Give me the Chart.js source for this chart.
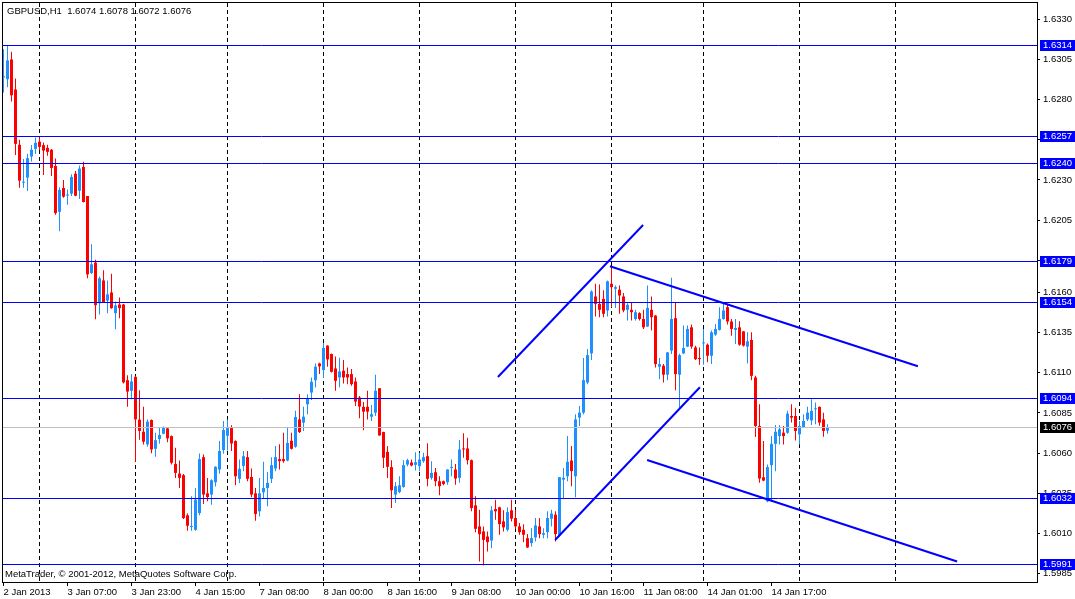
<!DOCTYPE html>
<html>
<head>
<meta charset="utf-8">
<title>GBPUSD,H1</title>
<script src="https://cdn.jsdelivr.net/npm/chart.js"></script>
<style>
  html, body { margin: 0; padding: 0; background: #fff; }
  canvas { display: block; }
</style>
</head>
<body>
<canvas id="chart" width="1075" height="599"></canvas>
<script>
// Data (H1 candles, 2 Jan 15:00 .. 15 Jan 07:00)
const symbol = "GBPUSD,H1";

const opens = [
  1.62938, 1.62927, 1.63050, 1.62863, 1.62519, 1.62283, 1.62315, 1.62446, 1.62494, 1.62538,
  1.62517, 1.62500, 1.62488, 1.62387, 1.62102, 1.62250, 1.62203, 1.62215, 1.62339, 1.62233,
  1.62381, 1.62200, 1.61721, 1.61786, 1.61533, 1.61675, 1.61550, 1.61600, 1.61471, 1.61525,
  1.61525, 1.61054, 1.60988, 1.61075, 1.60808, 1.60733, 1.60654, 1.60806, 1.60627, 1.60688,
  1.60721, 1.60754, 1.60706, 1.60533, 1.60473, 1.60463, 1.60213, 1.60140, 1.60123, 1.60227,
  1.60575, 1.60350, 1.60342, 1.60419, 1.60498, 1.60619, 1.60708, 1.60756, 1.60675, 1.60440,
  1.60521, 1.60575, 1.60452, 1.60350, 1.60238, 1.60356, 1.60383, 1.60440, 1.60504, 1.60563,
  1.60563, 1.60554, 1.60677, 1.60640, 1.60810, 1.60790, 1.60904, 1.60977, 1.61054, 1.61158,
  1.61117, 1.61269, 1.61217, 1.61127, 1.61071, 1.61113, 1.61092, 1.61092, 1.61046, 1.60946,
  1.60888, 1.60888, 1.60827, 1.60852, 1.61004, 1.60731, 1.60608, 1.60513, 1.60342, 1.60358,
  1.60390, 1.60529, 1.60542, 1.60527, 1.60519, 1.60550, 1.60581, 1.60446, 1.60481, 1.60425,
  1.60425, 1.60419, 1.60508, 1.60498, 1.60446, 1.60629, 1.60629, 1.60556, 1.60275, 1.60144,
  1.60113, 1.60081, 1.60056, 1.60252, 1.60263, 1.60175, 1.60123, 1.60244, 1.60196, 1.60144,
  1.60123, 1.60071, 1.60040, 1.60075, 1.60144, 1.60092, 1.60108, 1.60192, 1.60217, 1.60088,
  1.60435, 1.60456, 1.60554, 1.60456, 1.60821, 1.60852, 1.61040, 1.61221, 1.61575, 1.61529,
  1.61560, 1.61488, 1.61654, 1.61623, 1.61617, 1.61575, 1.61492, 1.61492, 1.61435, 1.61471,
  1.61435, 1.61388, 1.61492, 1.61456, 1.61138, 1.61144, 1.61088, 1.61238, 1.61440, 1.61088,
  1.61221, 1.61263, 1.61383, 1.61258, 1.61192, 1.61283, 1.61275, 1.61206, 1.61338, 1.61367,
  1.61435, 1.61508, 1.61419, 1.61367, 1.61383, 1.61358, 1.61263, 1.61304, 1.61071, 1.60769,
  1.60450, 1.60300, 1.60525, 1.60658, 1.60706, 1.60727, 1.60727, 1.60831, 1.60831, 1.60717,
  1.60762, 1.60810, 1.60804, 1.60873, 1.60888, 1.60810, 1.60740
];

const highs = [
  1.63113, 1.63138, 1.63098, 1.62931, 1.62550, 1.62431, 1.62463, 1.62517, 1.62564, 1.62564,
  1.62533, 1.62519, 1.62492, 1.62433, 1.62254, 1.62300, 1.62240, 1.62336, 1.62356, 1.62390,
  1.62413, 1.62200, 1.61900, 1.61804, 1.61700, 1.61738, 1.61675, 1.61717, 1.61544, 1.61569,
  1.61530, 1.61085, 1.61092, 1.61080, 1.60992, 1.60888, 1.60810, 1.60810, 1.60727, 1.60758,
  1.60765, 1.60760, 1.60710, 1.60633, 1.60554, 1.60470, 1.60225, 1.60331, 1.60383, 1.60598,
  1.60592, 1.60446, 1.60438, 1.60519, 1.60675, 1.60800, 1.60810, 1.60773, 1.60680, 1.60560,
  1.60613, 1.60613, 1.60504, 1.60383, 1.60446, 1.60546, 1.60483, 1.60575, 1.60644, 1.60656,
  1.60727, 1.60758, 1.60727, 1.60863, 1.60967, 1.60888, 1.60967, 1.61071, 1.61158, 1.61163,
  1.61285, 1.61272, 1.61220, 1.61202, 1.61194, 1.61179, 1.61133, 1.61123, 1.61071, 1.60956,
  1.60919, 1.60988, 1.60900, 1.61088, 1.61006, 1.60733, 1.60644, 1.60556, 1.60420, 1.60456,
  1.60556, 1.60565, 1.60560, 1.60606, 1.60602, 1.60602, 1.60662, 1.60550, 1.60508, 1.60456,
  1.60430, 1.60500, 1.60560, 1.60533, 1.60681, 1.60723, 1.60696, 1.60560, 1.60331, 1.60248,
  1.60144, 1.60113, 1.60269, 1.60310, 1.60266, 1.60244, 1.60263, 1.60310, 1.60244, 1.60165,
  1.60158, 1.60096, 1.60133, 1.60196, 1.60196, 1.60133, 1.60238, 1.60248, 1.60238, 1.60452,
  1.60508, 1.60706, 1.60644, 1.60842, 1.60894, 1.61192, 1.61248, 1.61613, 1.61654, 1.61650,
  1.61613, 1.61675, 1.61763, 1.61644, 1.61644, 1.61596, 1.61533, 1.61540, 1.61492, 1.61477,
  1.61492, 1.61644, 1.61575, 1.61460, 1.61192, 1.61154, 1.61230, 1.61692, 1.61540, 1.61219,
  1.61394, 1.61394, 1.61400, 1.61269, 1.61258, 1.61373, 1.61283, 1.61363, 1.61404, 1.61508,
  1.61540, 1.61529, 1.61435, 1.61435, 1.61421, 1.61360, 1.61352, 1.61352, 1.61081, 1.60904,
  1.60675, 1.60529, 1.60706, 1.60775, 1.60775, 1.60769, 1.60863, 1.60904, 1.60883, 1.60800,
  1.60842, 1.60888, 1.60935, 1.60915, 1.60890, 1.60852, 1.60780
];

const lows = [
  1.62844, 1.62877, 1.62789, 1.62456, 1.62252, 1.62252, 1.62231, 1.62415, 1.62461, 1.62487,
  1.62331, 1.62450, 1.62325, 1.62083, 1.61981, 1.62190, 1.62146, 1.62200, 1.62198, 1.62181,
  1.62160, 1.61688, 1.61715, 1.61433, 1.61463, 1.61536, 1.61471, 1.61498, 1.61371, 1.61440,
  1.61033, 1.60888, 1.60935, 1.60546, 1.60683, 1.60654, 1.60640, 1.60600, 1.60577, 1.60658,
  1.60717, 1.60667, 1.60529, 1.60446, 1.60383, 1.60190, 1.60117, 1.60117, 1.60117, 1.60213,
  1.60283, 1.60300, 1.60279, 1.60392, 1.60471, 1.60596, 1.60617, 1.60613, 1.60400, 1.60414,
  1.60488, 1.60425, 1.60325, 1.60179, 1.60206, 1.60321, 1.60269, 1.60414, 1.60488, 1.60498,
  1.60540, 1.60550, 1.60623, 1.60633, 1.60725, 1.60738, 1.60842, 1.60931, 1.61008, 1.61092,
  1.61067, 1.61138, 1.61102, 1.60988, 1.61008, 1.61033, 1.61029, 1.61019, 1.60894, 1.60817,
  1.60742, 1.60810, 1.60800, 1.60831, 1.60708, 1.60508, 1.60446, 1.60258, 1.60290, 1.60350,
  1.60385, 1.60519, 1.60519, 1.60492, 1.60488, 1.60540, 1.60394, 1.60435, 1.60394, 1.60338,
  1.60400, 1.60404, 1.60456, 1.60404, 1.60415, 1.60571, 1.60529, 1.60238, 1.60108, 1.59925,
  1.59900, 1.59988, 1.60008, 1.60185, 1.60092, 1.60113, 1.60113, 1.60175, 1.60129, 1.60092,
  1.60046, 1.60010, 1.60019, 1.60050, 1.60071, 1.60071, 1.60071, 1.60144, 1.60050, 1.60080,
  1.60321, 1.60425, 1.60394, 1.60325, 1.60769, 1.60842, 1.61029, 1.61179, 1.61450, 1.61446,
  1.61446, 1.61450, 1.61508, 1.61504, 1.61467, 1.61477, 1.61425, 1.61425, 1.61425, 1.61425,
  1.61373, 1.61385, 1.61363, 1.61133, 1.61060, 1.61040, 1.61054, 1.61217, 1.60992, 1.60879,
  1.61217, 1.61260, 1.61250, 1.61179, 1.61150, 1.61150, 1.61165, 1.61154, 1.61331, 1.61363,
  1.61430, 1.61400, 1.61331, 1.61279, 1.61269, 1.61263, 1.61158, 1.61054, 1.60700, 1.60415,
  1.60425, 1.60295, 1.60300, 1.60488, 1.60654, 1.60654, 1.60721, 1.60790, 1.60679, 1.60654,
  1.60758, 1.60800, 1.60775, 1.60779, 1.60771, 1.60702, 1.60720
];

const closes = [
  1.62946, 1.63044, 1.62827, 1.62525, 1.62296, 1.62288, 1.62436, 1.62488, 1.62531, 1.62506,
  1.62483, 1.62475, 1.62375, 1.62094, 1.62238, 1.62196, 1.62206, 1.62319, 1.62202, 1.62371,
  1.62163, 1.61713, 1.61775, 1.61521, 1.61688, 1.61540, 1.61588, 1.61502, 1.61519, 1.61502,
  1.61040, 1.60983, 1.61046, 1.60810, 1.60738, 1.60671, 1.60796, 1.60623, 1.60681, 1.60713,
  1.60763, 1.60692, 1.60540, 1.60477, 1.60446, 1.60196, 1.60148, 1.60144, 1.60311, 1.60563,
  1.60342, 1.60327, 1.60431, 1.60515, 1.60613, 1.60744, 1.60763, 1.60660, 1.60456, 1.60502,
  1.60581, 1.60440, 1.60342, 1.60221, 1.60350, 1.60383, 1.60415, 1.60525, 1.60575, 1.60550,
  1.60550, 1.60663, 1.60627, 1.60825, 1.60731, 1.60827, 1.60942, 1.61044, 1.61138, 1.61140,
  1.61254, 1.61183, 1.61106, 1.61050, 1.61108, 1.61071, 1.61071, 1.61029, 1.60921, 1.60890,
  1.60858, 1.60858, 1.60842, 1.60988, 1.60710, 1.60571, 1.60515, 1.60369, 1.60394, 1.60400,
  1.60525, 1.60556, 1.60523, 1.60544, 1.60560, 1.60575, 1.60440, 1.60477, 1.60425, 1.60394,
  1.60408, 1.60498, 1.60513, 1.60442, 1.60623, 1.60623, 1.60556, 1.60258, 1.60129, 1.60096,
  1.60060, 1.60046, 1.60244, 1.60238, 1.60158, 1.60138, 1.60233, 1.60192, 1.60144, 1.60108,
  1.60092, 1.60013, 1.60071, 1.60150, 1.60096, 1.60102, 1.60196, 1.60223, 1.60096, 1.60450,
  1.60446, 1.60546, 1.60488, 1.60810, 1.60852, 1.61054, 1.61210, 1.61606, 1.61529, 1.61492,
  1.61467, 1.61669, 1.61633, 1.61633, 1.61581, 1.61488, 1.61523, 1.61477, 1.61477, 1.61435,
  1.61383, 1.61504, 1.61446, 1.61154, 1.61154, 1.61088, 1.61227, 1.61435, 1.61092, 1.61210,
  1.61254, 1.61373, 1.61263, 1.61185, 1.61185, 1.61289, 1.61206, 1.61352, 1.61373, 1.61435,
  1.61488, 1.61419, 1.61373, 1.61379, 1.61275, 1.61269, 1.61296, 1.61081, 1.60769, 1.60442,
  1.60429, 1.60513, 1.60658, 1.60733, 1.60748, 1.60706, 1.60846, 1.60821, 1.60738, 1.60769,
  1.60800, 1.60852, 1.60863, 1.60877, 1.60790, 1.60738, 1.60760
];

// Horizontal price levels
const levels = [1.6314, 1.6257, 1.6240, 1.6179, 1.6154, 1.6094, 1.6032, 1.5991];

// Trend lines: [bar index, price, bar index, price]
const trendLines = [
  [123.6, 1.61074, 159.9, 1.62020],
  [137.9, 1.60059, 174.1, 1.61010],
  [151.6, 1.61763, 228.6, 1.61141],
  [160.9, 1.60557, 238.4, 1.59926]
];

// Axis labels
const priceTicks = [1.6330, 1.6305, 1.6280, 1.6255, 1.6230, 1.6205, 1.6180, 1.6160,
  1.6135, 1.6110, 1.6085, 1.6060, 1.6035, 1.6010, 1.5985];
const tickLabels = ["2 Jan 2013", "3 Jan 07:00", "3 Jan 23:00", "4 Jan 15:00", "7 Jan 08:00",
  "8 Jan 00:00", "8 Jan 16:00", "9 Jan 08:00", "10 Jan 00:00", "10 Jan 16:00",
  "11 Jan 08:00", "14 Jan 01:00", "14 Jan 17:00"];
const labelStep = 16;
const dayStarts = [9, 33, 56, 80, 104, 128, 152, 175, 199, 223];

// Colors
const bullColor = "#1e90ff";
const bearColor = "#ff0000";
const lineColor = "#0000ff";
const font = "'Liberation Sans', Arial, sans-serif";
const none = "rgba(0,0,0,0)";

const last = closes.length - 1;
const candleColors = closes.map((c, i) => (c >= opens[i] ? bullColor : bearColor));
const xTicks = [...new Set([...tickLabels.map((t, k) => k * labelStep), ...dayStarts])].sort((a, b) => a - b);
const isLabelTick = (v) => v % labelStep === 0 && v / labelStep < tickLabels.length;

// Levels, trend lines, price tags, frame and texts
const overlay = {
  id: "overlay",
  afterDatasetsDraw(chart) {
    const { ctx, chartArea: a, scales: { x, y } } = chart;
    ctx.save();
    ctx.beginPath();
    ctx.rect(a.left, a.top, a.right - a.left, a.bottom - a.top);
    ctx.clip();

    ctx.lineWidth = 1;
    const hLine = (v, color) => {
      const py = Math.floor(y.getPixelForValue(v)) + 0.5;
      ctx.strokeStyle = color;
      ctx.beginPath();
      ctx.moveTo(a.left, py);
      ctx.lineTo(a.right, py);
      ctx.stroke();
    };
    hLine(closes[last], "#c0c0c0");
    levels.forEach((v) => hLine(v, lineColor));

    ctx.lineWidth = 2;
    ctx.strokeStyle = lineColor;
    trendLines.forEach(([i1, v1, i2, v2]) => {
      ctx.beginPath();
      ctx.moveTo(x.getPixelForValue(i1), y.getPixelForValue(v1));
      ctx.lineTo(x.getPixelForValue(i2), y.getPixelForValue(v2));
      ctx.stroke();
    });
    ctx.restore();
  },
  afterDraw(chart) {
    const { ctx, chartArea: a, scales: { y }, width } = chart;
    ctx.save();
    ctx.strokeStyle = "#000";
    ctx.lineWidth = 1;
    ctx.strokeRect(a.left - 0.5, a.top - 0.5, a.right - a.left + 1, a.bottom - a.top + 1);

    ctx.font = `9.5px ${font}`;
    ctx.textBaseline = "middle";
    ctx.textAlign = "left";
    const tag = (v, bg) => {
      const py = Math.floor(y.getPixelForValue(v));
      ctx.fillStyle = bg;
      ctx.fillRect(a.right + 3, py - 5, width - a.right - 3, 11);
      ctx.fillStyle = "#fff";
      ctx.fillText(v.toFixed(4), a.right + 6, py + 0.5);
    };
    levels.forEach((v) => tag(v, lineColor));
    tag(closes[last], "#000");

    ctx.fillStyle = "#000";
    const ohlc = [opens[last], highs[last], lows[last], closes[last]].map((v) => v.toFixed(4)).join(" ");
    ctx.fillText(`${symbol}  ${ohlc}`, a.left + 4, a.top + 8);
    ctx.fillText("MetaTrader, © 2001-2012, MetaQuotes Software Corp.", a.left + 2, a.bottom - 8);
    ctx.restore();
  }
};

// Chart
const barStyle = {
  grouped: false,
  barPercentage: 1,
  categoryPercentage: 1,
  inflateAmount: 0,
  borderWidth: 0,
  backgroundColor: candleColors
};

new Chart(document.querySelector("#chart"), {
  type: "bar",
  data: {
    datasets: [
      {
        ...barStyle,
        label: "body",
        maxBarThickness: 3,
        minBarLength: 1,
        data: opens.map((o, i) => ({ x: i, y: [o, closes[i]] }))
      },
      {
        ...barStyle,
        label: "wick",
        maxBarThickness: 1,
        data: lows.map((l, i) => ({ x: i, y: [l, highs[i]] }))
      }
    ]
  },
  options: {
    responsive: false,
    animation: false,
    layout: { padding: { left: 3, top: 3, right: 0, bottom: 0 } },
    plugins: { legend: { display: false }, tooltip: { enabled: false } },
    scales: {
      x: {
        type: "linear",
        min: -0.125,
        max: 258.375,
        offset: false,
        afterBuildTicks: (scale) => { scale.ticks = xTicks.map((v) => ({ value: v })); },
        afterFit: (scale) => { scale.height = 17; scale.paddingLeft = 0; scale.paddingRight = 0; },
        grid: {
          offset: false,
          lineWidth: 1,
          tickLength: 4,
          color: (c) => (c.tick && dayStarts.includes(c.tick.value) ? "#000" : none),
          tickColor: (c) => (c.tick && isLabelTick(c.tick.value) ? "#000" : none)
        },
        border: { display: false, dash: [4, 3] },
        ticks: {
          autoSkip: false,
          maxRotation: 0,
          minRotation: 0,
          align: "start",
          padding: 1,
          color: "#000",
          font: { family: font, size: 9.5 },
          callback: (v) => (isLabelTick(v) ? tickLabels[v / labelStep] : "")
        }
      },
      y: {
        type: "linear",
        position: "right",
        min: 1.59798,
        max: 1.634014,
        beginAtZero: false,
        afterBuildTicks: (scale) => { scale.ticks = priceTicks.map((v) => ({ value: v })); },
        afterFit: (scale) => { scale.width = 38; scale.paddingTop = 0; scale.paddingBottom = 0; },
        grid: { drawOnChartArea: false, tickLength: 3, color: "#000" },
        border: { display: false },
        ticks: {
          autoSkip: false,
          padding: 3,
          color: "#000",
          font: { family: font, size: 9.5 },
          callback: (v) => v.toFixed(4)
        }
      }
    }
  },
  plugins: [overlay]
});
</script>
</body>
</html>
